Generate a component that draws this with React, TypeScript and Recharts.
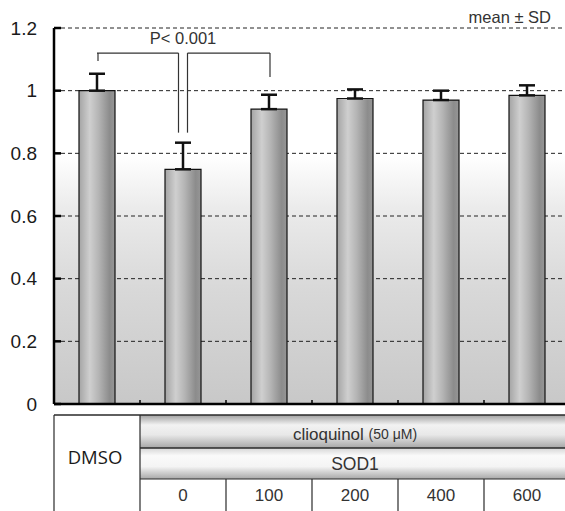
import React from 'react';
import { BarChart, Bar, XAxis, YAxis, CartesianGrid, ErrorBar, ReferenceLine, ReferenceDot } from 'recharts';

const categories = ['DMSO', '0', '100', '200', '400', '600'];
const means = [1.0, 0.749, 0.941, 0.975, 0.97, 0.985];
const sds = [0.054, 0.085, 0.046, 0.029, 0.03, 0.032];
const yTicks = [0, 0.2, 0.4, 0.6, 0.8, 1, 1.2];
const bracketY = 1.12;
const leftBracket = { from: 'DMSO', to: '0', fromLeg: 1.095, toLeg: 0.866 };
const rightBracket = { from: '0', to: '100', fromLeg: 0.866, toLeg: 1.044 };
const pLabel = 'P< 0.001';
const pLabelY = 1.168;
const drugLabel = 'clioquinol ';
const drugDose = '(50 μM)';
const proteinLabel = 'SOD1';
const controlLabel = 'DMSO';
const noteLabel = 'mean ± SD';

const data = categories.map((c, i) => ({ cat: c, mean: means[i], err: [0, sds[i]] }));

const SANS = 'Liberation Sans, Arial, sans-serif';
const LINE = '#2a2a2a';

const TOP = 415;
const R1 = 448;
const R2 = 479;
const BOTTOM = 530;

const seg = (dx1: number, dx2: number) => (p: any) => (
  <line x1={p.x1 + dx1} y1={p.y1} x2={p.x2 + dx2} y2={p.y2} stroke="#333" strokeWidth={1.2} />
);

const YTick = (props: any) => {
  const { x, y, payload } = props;
  return (
    <g>
      <line x1={x} x2={x + 7} y1={y} y2={y} stroke="#000" strokeWidth={2.5} />
      <text x={x - 17} y={y} textAnchor="end" dominantBaseline="central" fontSize={19} fontFamily={SANS} fill="#1a1a1a">
        {String(payload.value)}
      </text>
    </g>
  );
};

const XTick = (props: any) => {
  const { x, y, payload, index } = props;
  const half = (payload && payload.offset) || 43;
  const left = x - half;
  const right = x + half;
  if (index === 0) {
    return (
      <g>
        <rect x={left} y={TOP} width={right - left} height={BOTTOM - TOP} fill="#fff" />
        <line x1={left} x2={left} y1={TOP} y2={BOTTOM} stroke={LINE} strokeWidth={1.2} />
        <line x1={left} x2={right} y1={TOP} y2={TOP} stroke={LINE} strokeWidth={1.5} />
        <text x={x - 2} y={456} textAnchor="middle" dominantBaseline="central" fontSize={18.5} fontFamily="Open Sans, sans-serif" fill="#1a1a1a">
          {controlLabel}
        </text>
      </g>
    );
  }
  const items: any[] = [];
  if (index === 1) {
    const spanEnd = left + (categories.length - 1) * 2 * half;
    const mid = (left + spanEnd) / 2;
    items.push(
      <rect key="r1" x={left} y={TOP} width={spanEnd - left} height={R1 - TOP} fill="url(#row1Grad)" />,
      <rect key="r2" x={left} y={R1} width={spanEnd - left} height={R2 - R1} fill="url(#row2Grad)" />,
      <rect key="r3" x={left} y={R2} width={spanEnd - left} height={BOTTOM - R2} fill="#fff" />,
      <line key="lt" x1={left} x2={spanEnd} y1={TOP} y2={TOP} stroke={LINE} strokeWidth={1.5} />,
      <line key="l1" x1={left} x2={spanEnd} y1={R1} y2={R1} stroke={LINE} strokeWidth={1.5} />,
      <line key="l2" x1={left} x2={spanEnd} y1={R2} y2={R2} stroke={LINE} strokeWidth={1.2} />,
      <line key="lv" x1={left} x2={left} y1={TOP} y2={BOTTOM} stroke={LINE} strokeWidth={1.2} />,
      <text key="t1" x={mid} y={434} textAnchor="middle" dominantBaseline="central" fontFamily={SANS} fill="#333">
        <tspan fontSize={17}>{drugLabel}</tspan>
        <tspan fontSize={14}>{drugDose}</tspan>
      </text>,
      <text key="t2" x={mid} y={464} textAnchor="middle" dominantBaseline="central" fontSize={17.5} fontFamily={SANS} fill="#333">
        {proteinLabel}
      </text>
    );
  } else {
    items.push(<line key="lv" x1={left} x2={left} y1={R2} y2={BOTTOM} stroke={LINE} strokeWidth={1.2} />);
  }
  items.push(<line key="tk" x1={left} x2={left} y1={y} y2={y - 4} stroke="#000" strokeWidth={1.5} />);
  items.push(
    <text key="n" x={x} y={495} textAnchor="middle" dominantBaseline="central" fontSize={17} fontFamily={SANS} fill="#333">
      {payload.value}
    </text>
  );
  return <g>{items}</g>;
};

const NoteLabel = (props: any) => {
  const vb = props.viewBox || { x: 0, y: 0 };
  return (
    <text x={vb.x + 24} y={vb.y - 5} textAnchor="end" fontSize={16.5} fontFamily={SANS} fill="#333">
      {noteLabel}
    </text>
  );
};

export default function App() {
  return (
    <div style={{ position: 'absolute', left: 0, top: 0, width: 565, height: 511, overflow: 'hidden', background: '#fff' }}>
      <BarChart width={575} height={511} data={data} margin={{ top: 28, right: 5, left: 0, bottom: 0 }}>
        <defs>
          <linearGradient id="bgGrad" x1="0" y1="0" x2="0" y2="1">
            <stop offset="0" stopColor="#ffffff" />
            <stop offset="0.34" stopColor="#ffffff" />
            <stop offset="0.48" stopColor="#ebebeb" />
            <stop offset="0.7" stopColor="#d8d8d8" />
            <stop offset="1" stopColor="#c8c8c8" />
          </linearGradient>
          <linearGradient id="barGrad" x1="0" y1="0" x2="1" y2="0">
            <stop offset="0" stopColor="#a4a4a4" />
            <stop offset="0.3" stopColor="#cfcfcf" />
            <stop offset="0.55" stopColor="#b4b4b4" />
            <stop offset="0.85" stopColor="#8c8c8c" />
            <stop offset="1" stopColor="#969696" />
          </linearGradient>
          <linearGradient id="row1Grad" x1="0" y1="0" x2="0" y2="1">
            <stop offset="0" stopColor="#a0a0a0" />
            <stop offset="0.3" stopColor="#f2f2f2" />
            <stop offset="0.6" stopColor="#e8e8e8" />
            <stop offset="1" stopColor="#a6a6a6" />
          </linearGradient>
          <linearGradient id="row2Grad" x1="0" y1="0" x2="0" y2="1">
            <stop offset="0" stopColor="#d6d6d6" />
            <stop offset="0.25" stopColor="#fafafa" />
            <stop offset="0.6" stopColor="#f4f4f4" />
            <stop offset="1" stopColor="#a8a8a8" />
          </linearGradient>
        </defs>
        <CartesianGrid vertical={false} fill="url(#bgGrad)" stroke="#222" strokeDasharray="4 3" />
        <XAxis
          dataKey="cat"
          height={107}
          interval={0}
          tickSize={0}
          tickMargin={0}
          tickLine={false}
          axisLine={{ stroke: '#000', strokeWidth: 2.5 }}
          tick={<XTick />}
        />
        <YAxis
          width={54}
          domain={[0, 1.2]}
          ticks={yTicks}
          tickSize={0}
          tickMargin={0}
          tickLine={false}
          axisLine={{ stroke: '#000', strokeWidth: 2.5 }}
          tick={<YTick />}
        />
        <Bar dataKey="mean" barSize={36} fill="url(#barGrad)" stroke="#111" strokeWidth={1.2} isAnimationActive={false}>
          <ErrorBar dataKey="err" direction="y" width={8} stroke="#111" strokeWidth={2.5} isAnimationActive={false} />
        </Bar>
        <ReferenceLine segment={[{ x: leftBracket.from, y: bracketY }, { x: leftBracket.to, y: bracketY }]} shape={seg(0, -4.5)} />
        <ReferenceLine segment={[{ x: leftBracket.from, y: bracketY }, { x: leftBracket.from, y: leftBracket.fromLeg }]} shape={seg(1, 1)} />
        <ReferenceLine segment={[{ x: leftBracket.to, y: bracketY }, { x: leftBracket.to, y: leftBracket.toLeg }]} shape={seg(-4.5, -4.5)} />
        <ReferenceLine segment={[{ x: rightBracket.from, y: bracketY }, { x: rightBracket.to, y: bracketY }]} shape={seg(4.5, 1)} />
        <ReferenceLine segment={[{ x: rightBracket.from, y: bracketY }, { x: rightBracket.from, y: rightBracket.fromLeg }]} shape={seg(4.5, 4.5)} />
        <ReferenceLine segment={[{ x: rightBracket.to, y: bracketY }, { x: rightBracket.to, y: rightBracket.toLeg }]} shape={seg(1, 1)} />
        <ReferenceDot
          x={categories[1]}
          y={pLabelY}
          r={0}
          fill="none"
          stroke="none"
          label={{ value: pLabel, position: 'center', fontSize: 16.5, fontFamily: SANS, fill: '#333' }}
        />
        <ReferenceDot x={categories[5]} y={1.2} r={0} fill="none" stroke="none" label={<NoteLabel />} />
      </BarChart>
    </div>
  );
}
